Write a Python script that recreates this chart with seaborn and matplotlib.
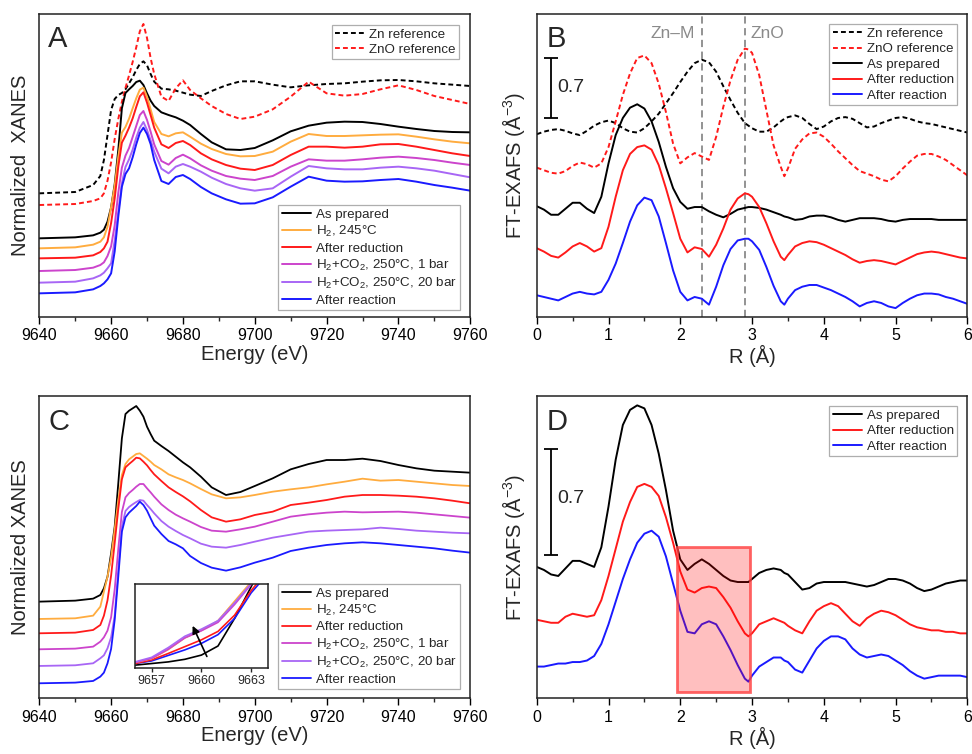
import matplotlib
matplotlib.use('Agg')
import matplotlib.pyplot as plt
import numpy as np
import seaborn as sns
from matplotlib.patches import Rectangle
from matplotlib.ticker import MultipleLocator

# ---- data (arbitrary offset units) ----
energy = [9640, 9650, 9655, 9657, 9658, 9659, 9660, 9661, 9662, 9663,
          9664, 9665, 9666, 9667, 9668, 9669, 9670, 9671, 9672, 9674,
          9676, 9678, 9680, 9682, 9685, 9688, 9692, 9696, 9700, 9705,
          9710, 9715, 9720, 9725, 9730, 9735, 9740, 9745, 9750, 9755, 9760]

# panel A
a_zn_ref = [3.70, 3.74, 3.95, 4.22, 4.70, 5.45, 6.20, 6.53, 6.65, 6.71,
            6.82, 7.00, 7.18, 7.40, 7.58, 7.66, 7.54, 7.28, 7.05, 6.84,
            6.82, 6.78, 6.72, 6.66, 6.62, 6.77, 6.94, 7.06, 7.06, 6.96,
            6.88, 6.94, 6.98, 7.00, 7.05, 7.09, 7.10, 7.06, 7.00, 6.96, 6.92]
a_zno_ref = [3.35, 3.38, 3.47, 3.55, 3.70, 4.08, 4.63, 5.33, 5.93, 6.44,
             6.86, 7.24, 7.64, 8.08, 8.56, 8.78, 8.36, 7.76, 7.28, 6.60,
             6.47, 6.85, 7.09, 6.80, 6.55, 6.32, 6.08, 5.93, 6.00, 6.22,
             6.60, 7.05, 6.70, 6.63, 6.68, 6.82, 6.94, 6.80, 6.62, 6.50, 6.38]
a_prep = [2.35, 2.38, 2.44, 2.52, 2.61, 2.85, 3.28, 3.97, 5.00, 6.25,
          6.71, 6.82, 6.92, 7.04, 7.08, 6.95, 6.70, 6.48, 6.32, 6.13,
          6.05, 5.98, 5.88, 5.75, 5.48, 5.23, 5.02, 5.00, 5.06, 5.29,
          5.56, 5.73, 5.82, 5.85, 5.84, 5.78, 5.70, 5.63, 5.57, 5.54, 5.53]
a_h2 = [2.05, 2.08, 2.16, 2.25, 2.38, 2.70, 3.28, 3.92, 4.80, 5.52,
        5.69, 5.94, 6.25, 6.55, 6.81, 6.87, 6.60, 6.22, 5.84, 5.48,
        5.41, 5.50, 5.53, 5.40, 5.19, 5.03, 4.88, 4.81, 4.82, 4.95,
        5.25, 5.48, 5.42, 5.42, 5.44, 5.46, 5.47, 5.40, 5.32, 5.25, 5.20]
a_red = [1.75, 1.77, 1.84, 1.94, 2.05, 2.25, 2.81, 3.55, 4.50, 5.22,
         5.43, 5.67, 5.95, 6.29, 6.61, 6.73, 6.42, 6.05, 5.67, 5.17,
         5.06, 5.21, 5.27, 5.15, 4.90, 4.72, 4.55, 4.44, 4.40, 4.55,
         4.85, 5.10, 5.10, 5.07, 5.10, 5.17, 5.18, 5.10, 5.00, 4.90, 4.82]
a_co2_1 = [1.37, 1.40, 1.47, 1.55, 1.63, 1.82, 2.11, 2.74, 3.72, 4.47,
           4.83, 5.06, 5.39, 5.72, 6.05, 6.17, 5.90, 5.55, 5.17, 4.67,
           4.56, 4.76, 4.86, 4.75, 4.54, 4.38, 4.22, 4.14, 4.10, 4.22,
           4.50, 4.72, 4.68, 4.68, 4.72, 4.77, 4.80, 4.76, 4.70, 4.62, 4.55]
a_co2_20 = [1.02, 1.05, 1.15, 1.24, 1.32, 1.45, 1.60, 2.28, 3.15, 4.00,
            4.49, 4.72, 5.01, 5.37, 5.67, 5.84, 5.60, 5.29, 4.95, 4.44,
            4.30, 4.50, 4.58, 4.50, 4.35, 4.17, 3.98, 3.85, 3.78, 3.85,
            4.20, 4.52, 4.45, 4.42, 4.42, 4.47, 4.50, 4.45, 4.38, 4.28, 4.18]
a_reac = [0.70, 0.73, 0.82, 0.92, 1.00, 1.12, 1.30, 1.96, 3.00, 3.90,
          4.28, 4.45, 4.78, 5.17, 5.51, 5.67, 5.48, 5.18, 4.70, 4.07,
          3.98, 4.19, 4.25, 4.13, 3.89, 3.70, 3.52, 3.39, 3.40, 3.58,
          3.90, 4.20, 4.08, 4.05, 4.06, 4.10, 4.13, 4.05, 3.95, 3.87, 3.78]

# panel C
c_prep = [2.90, 2.93, 2.99, 3.10, 3.30, 3.65, 4.35, 5.15, 6.45, 7.80,
          8.53, 8.63, 8.70, 8.77, 8.63, 8.45, 8.15, 7.93, 7.73, 7.57,
          7.42, 7.25, 7.08, 6.93, 6.65, 6.33, 6.10, 6.19, 6.37, 6.60,
          6.87, 7.03, 7.15, 7.15, 7.19, 7.12, 7.00, 6.90, 6.83, 6.80, 6.77]
c_h2 = [2.38, 2.40, 2.48, 2.75, 3.20, 3.65, 4.23, 5.07, 5.95, 6.70,
        7.03, 7.17, 7.25, 7.33, 7.35, 7.27, 7.19, 7.10, 7.00, 6.87,
        6.72, 6.63, 6.55, 6.45, 6.28, 6.12, 6.00, 6.03, 6.10, 6.20,
        6.27, 6.33, 6.42, 6.50, 6.59, 6.53, 6.55, 6.50, 6.45, 6.40, 6.37]
c_red = [1.95, 1.97, 2.05, 2.20, 2.48, 2.94, 3.68, 4.66, 5.68, 6.57,
         6.93, 7.03, 7.12, 7.22, 7.20, 7.10, 6.99, 6.85, 6.72, 6.52,
         6.33, 6.19, 6.06, 5.91, 5.65, 5.43, 5.30, 5.37, 5.50, 5.60,
         5.80, 5.87, 5.95, 6.05, 6.10, 6.10, 6.08, 6.05, 6.00, 5.93, 5.85]
c_co2_1 = [1.47, 1.49, 1.55, 1.70, 1.83, 2.03, 2.43, 3.27, 4.48, 5.59,
           6.03, 6.16, 6.25, 6.35, 6.43, 6.43, 6.30, 6.18, 6.05, 5.82,
           5.65, 5.51, 5.40, 5.30, 5.14, 5.03, 5.00, 5.07, 5.15, 5.30,
           5.45, 5.52, 5.57, 5.60, 5.58, 5.59, 5.60, 5.57, 5.52, 5.47, 5.42]
c_co2_20 = [0.97, 0.99, 1.05, 1.20, 1.29, 1.50, 1.83, 2.48, 3.88, 5.15,
            5.62, 5.74, 5.82, 5.89, 5.95, 5.93, 5.80, 5.68, 5.55, 5.32,
            5.15, 5.02, 4.90, 4.80, 4.64, 4.55, 4.52, 4.60, 4.70, 4.82,
            4.91, 5.00, 5.03, 5.05, 5.07, 5.12, 5.08, 5.03, 5.00, 4.97, 4.95]
c_reac = [0.45, 0.47, 0.52, 0.65, 0.77, 1.05, 1.48, 2.35, 3.65, 5.00,
          5.43, 5.57, 5.67, 5.77, 5.90, 5.80, 5.63, 5.40, 5.18, 4.93,
          4.72, 4.62, 4.50, 4.27, 4.06, 3.92, 3.83, 3.93, 4.07, 4.22,
          4.42, 4.52, 4.60, 4.65, 4.68, 4.65, 4.60, 4.55, 4.50, 4.43, 4.37]

# inset of C (pre-edge region)
inset_energy = [9656, 9657, 9658, 9659, 9660, 9661, 9662, 9663, 9664]
inset_prep = [0.08, 0.13, 0.18, 0.26, 0.39, 0.67, 1.52, 2.50, 3.50]
inset_h2 = [0.16, 0.28, 0.56, 0.92, 1.15, 1.45, 2.05, 2.65, 3.10]
inset_red = [0.13, 0.24, 0.44, 0.65, 0.86, 1.12, 1.62, 2.38, 3.00]
inset_co2_1 = [0.16, 0.29, 0.57, 0.92, 1.14, 1.40, 1.95, 2.57, 3.10]
inset_co2_20 = [0.18, 0.32, 0.62, 0.97, 1.19, 1.45, 2.00, 2.60, 3.10]
inset_reac = [0.13, 0.21, 0.38, 0.55, 0.75, 1.02, 1.52, 2.31, 2.90]

# panels B and D (R in Angstrom)
r = [0.0, 0.1, 0.2, 0.3, 0.4, 0.5, 0.6, 0.7, 0.8, 0.9,
     1.0, 1.1, 1.2, 1.3, 1.4, 1.5, 1.6, 1.7, 1.8, 1.9,
     2.0, 2.1, 2.2, 2.3, 2.4, 2.5, 2.6, 2.7, 2.8, 2.9,
     2.95, 3.0, 3.1, 3.2, 3.3, 3.4, 3.45, 3.5, 3.6, 3.7, 3.8, 3.9,
     4.0, 4.1, 4.2, 4.3, 4.4, 4.5, 4.6, 4.7, 4.8, 4.9,
     5.0, 5.1, 5.2, 5.3, 5.4, 5.5, 5.6, 5.7, 5.8, 5.9, 6.0]

b_zn_ref = [2.13, 2.16, 2.18, 2.19, 2.17, 2.14, 2.12, 2.17, 2.23, 2.27,
            2.29, 2.26, 2.20, 2.16, 2.15, 2.20, 2.28, 2.37, 2.49, 2.61,
            2.74, 2.86, 2.96, 3.00, 2.97, 2.86, 2.69, 2.53, 2.38, 2.26,
            2.23, 2.20, 2.16, 2.16, 2.21, 2.28, 2.31, 2.33, 2.35, 2.32, 2.25, 2.19,
            2.22, 2.28, 2.32, 2.33, 2.31, 2.26, 2.21, 2.22, 2.26, 2.29,
            2.32, 2.33, 2.31, 2.28, 2.26, 2.25, 2.23, 2.21, 2.19, 2.17, 2.15]
b_zno_ref = [1.74, 1.71, 1.68, 1.67, 1.70, 1.76, 1.80, 1.78, 1.74, 1.79,
             1.98, 2.28, 2.59, 2.84, 3.02, 3.05, 2.96, 2.72, 2.39, 2.02,
             1.79, 1.86, 1.91, 1.87, 1.83, 2.10, 2.45, 2.76, 3.00, 3.13,
             3.12, 3.08, 2.82, 2.41, 2.00, 1.75, 1.64, 1.73, 1.96, 2.07, 2.14, 2.15,
             2.10, 2.02, 1.93, 1.85, 1.77, 1.70, 1.67, 1.64, 1.60, 1.58,
             1.64, 1.73, 1.81, 1.88, 1.90, 1.90, 1.87, 1.83, 1.77, 1.71, 1.65]
b_prep = [1.29, 1.25, 1.19, 1.19, 1.26, 1.33, 1.33, 1.26, 1.21, 1.40,
          1.79, 2.12, 2.32, 2.44, 2.48, 2.43, 2.28, 2.04, 1.75, 1.50,
          1.34, 1.26, 1.28, 1.28, 1.23, 1.19, 1.16, 1.20, 1.25, 1.27,
          1.28, 1.28, 1.27, 1.25, 1.22, 1.19, 1.17, 1.16, 1.13, 1.14, 1.17, 1.18,
          1.18, 1.16, 1.13, 1.11, 1.13, 1.15, 1.15, 1.15, 1.14, 1.12,
          1.11, 1.13, 1.14, 1.14, 1.14, 1.14, 1.13, 1.13, 1.13, 1.13, 1.13]
b_red = [0.80, 0.76, 0.71, 0.69, 0.75, 0.82, 0.86, 0.82, 0.76, 0.80,
         1.05, 1.40, 1.71, 1.90, 1.98, 2.00, 1.95, 1.77, 1.50, 1.21,
         0.91, 0.75, 0.81, 0.79, 0.70, 0.84, 1.03, 1.25, 1.38, 1.44,
         1.43, 1.40, 1.28, 1.09, 0.88, 0.70, 0.66, 0.72, 0.82, 0.86, 0.88, 0.87,
         0.84, 0.80, 0.76, 0.72, 0.67, 0.63, 0.65, 0.66, 0.65, 0.63,
         0.61, 0.65, 0.69, 0.73, 0.75, 0.76, 0.75, 0.73, 0.71, 0.69, 0.68]
b_reac = [0.25, 0.23, 0.21, 0.19, 0.23, 0.27, 0.29, 0.27, 0.26, 0.29,
          0.43, 0.62, 0.86, 1.11, 1.30, 1.39, 1.36, 1.17, 0.86, 0.54,
          0.29, 0.19, 0.23, 0.21, 0.14, 0.35, 0.60, 0.79, 0.89, 0.91,
          0.91, 0.88, 0.78, 0.58, 0.36, 0.18, 0.14, 0.21, 0.31, 0.35, 0.37, 0.37,
          0.34, 0.31, 0.27, 0.23, 0.18, 0.12, 0.16, 0.18, 0.16, 0.12,
          0.10, 0.16, 0.21, 0.25, 0.27, 0.27, 0.26, 0.23, 0.21, 0.18, 0.15]

d_prep = [0.87, 0.85, 0.82, 0.81, 0.86, 0.91, 0.91, 0.89, 0.87, 1.00,
          1.27, 1.58, 1.81, 1.91, 1.94, 1.92, 1.81, 1.62, 1.38, 1.11,
          0.92, 0.85, 0.89, 0.92, 0.89, 0.85, 0.81, 0.78, 0.77, 0.77,
          0.77, 0.79, 0.83, 0.85, 0.86, 0.85, 0.83, 0.82, 0.77, 0.72, 0.73, 0.76,
          0.77, 0.77, 0.77, 0.77, 0.76, 0.75, 0.74, 0.75, 0.77, 0.79,
          0.79, 0.78, 0.76, 0.73, 0.71, 0.72, 0.74, 0.76, 0.77, 0.78, 0.78]
d_red = [0.52, 0.51, 0.50, 0.50, 0.54, 0.56, 0.55, 0.54, 0.55, 0.65,
         0.81, 0.99, 1.17, 1.30, 1.40, 1.42, 1.40, 1.34, 1.20, 1.03,
         0.84, 0.72, 0.70, 0.73, 0.74, 0.73, 0.67, 0.60, 0.51, 0.43,
         0.41, 0.43, 0.49, 0.51, 0.53, 0.51, 0.50, 0.48, 0.45, 0.43, 0.51, 0.58,
         0.61, 0.63, 0.61, 0.56, 0.51, 0.48, 0.53, 0.56, 0.58, 0.57,
         0.55, 0.52, 0.49, 0.47, 0.46, 0.45, 0.45, 0.44, 0.44, 0.43, 0.43]
d_reac = [0.21, 0.21, 0.22, 0.23, 0.23, 0.24, 0.24, 0.25, 0.28, 0.36,
          0.49, 0.64, 0.79, 0.92, 1.03, 1.09, 1.11, 1.07, 0.94, 0.76,
          0.58, 0.44, 0.43, 0.49, 0.51, 0.49, 0.41, 0.32, 0.22, 0.13,
          0.11, 0.15, 0.21, 0.24, 0.27, 0.27, 0.25, 0.24, 0.19, 0.17, 0.25, 0.33,
          0.38, 0.41, 0.41, 0.39, 0.33, 0.29, 0.27, 0.28, 0.29, 0.28,
          0.25, 0.22, 0.18, 0.15, 0.13, 0.14, 0.15, 0.15, 0.15, 0.15, 0.14]

labels_xanes = ['As prepared', 'H$_2$, 245°C', 'After reduction',
                'H$_2$+CO$_2$, 250°C, 1 bar', 'H$_2$+CO$_2$, 250°C, 20 bar',
                'After reaction']
labels_exafs = ['As prepared', 'After reduction', 'After reaction']
colors_xanes = ['black', '#ffac3f', '#ff1a1a', '#cc44cc', '#a866f5', '#1a1aff']
colors_exafs = ['black', '#ff1a1a', '#1a1aff']
DASH = (0, (2.5, 1.6))

sns.set_style('ticks')
plt.rcParams['font.family'] = ['Liberation Sans', 'DejaVu Sans']
plt.rcParams['mathtext.default'] = 'regular'


def add_curve(ax, x, y, color, label=None, ls='-', lw=1.4):
    sns.lineplot(x=x, y=y, ax=ax, color=color, linewidth=lw, linestyle=ls,
                 label=label, estimator=None, sort=False, legend=False)


def style_axes(ax, xlim, major, minor, xlabel, ylabel, ylim):
    ax.set_xlim(*xlim)
    ax.set_ylim(*ylim)
    ax.xaxis.set_major_locator(MultipleLocator(major))
    ax.xaxis.set_minor_locator(MultipleLocator(minor))
    ax.set_yticks([])
    ax.tick_params(axis='x', which='major', direction='out', length=5, width=1,
                   labelsize=11.5, colors='black')
    ax.tick_params(axis='x', which='minor', direction='out', length=3, width=1)
    for sp in ax.spines.values():
        sp.set_linewidth(1.1)
        sp.set_color('#222222')
    ax.set_xlabel(xlabel, fontsize=14.5, labelpad=1)
    ax.set_ylabel(ylabel, fontsize=14.5, labelpad=7)


def make_legend(ax, handles, anchor, loc):
    leg = ax.legend(handles=handles, loc=loc, bbox_to_anchor=anchor,
                    borderaxespad=0, frameon=True, fancybox=False,
                    edgecolor='#9a9a9a', fontsize=9.6, handlelength=2.2,
                    handletextpad=0.35, labelspacing=0.24, borderpad=0.25)
    leg.get_frame().set_linewidth(0.9)
    return leg


fig = plt.figure(figsize=(9.72, 7.54), dpi=100)
ax_a = fig.add_axes([0.0404, 0.5800, 0.4434, 0.4010])
ax_b = fig.add_axes([0.5522, 0.5800, 0.4430, 0.4010])
ax_c = fig.add_axes([0.0404, 0.0739, 0.4434, 0.4013])
ax_d = fig.add_axes([0.5522, 0.0739, 0.4430, 0.4013])

# ---- A: XANES with references ----
add_curve(ax_a, energy, a_zn_ref, 'black', 'Zn reference', DASH)
add_curve(ax_a, energy, a_zno_ref, '#ff1a1a', 'ZnO reference', DASH)
for vals, col, lab in zip([a_prep, a_h2, a_red, a_co2_1, a_co2_20, a_reac],
                          colors_xanes, labels_xanes):
    add_curve(ax_a, energy, vals, col, lab)
style_axes(ax_a, (9640, 9760), 20, 10, 'Energy (eV)', 'Normalized  XANES', (0, 9.07))
h, _ = ax_a.get_legend_handles_labels()
leg_ref = make_legend(ax_a, h[:2], (0.974, 0.965), 'upper right')
ax_a.add_artist(leg_ref)
make_legend(ax_a, h[2:], (0.976, 0.022), 'lower right')
ax_a.text(0.02, 0.965, 'A', transform=ax_a.transAxes, fontsize=21, va='top')

# ---- B: FT-EXAFS with references ----
add_curve(ax_b, r, b_zn_ref, 'black', 'Zn reference', DASH)
add_curve(ax_b, r, b_zno_ref, '#ff1a1a', 'ZnO reference', DASH)
for vals, col, lab in zip([b_prep, b_red, b_reac], colors_exafs, labels_exafs):
    add_curve(ax_b, r, vals, col, lab)
style_axes(ax_b, (0, 6), 1, 0.5, 'R (Å)', 'FT-EXAFS (Å$^{-3}$)', (0, 3.53))
for xv in (2.30, 2.90):
    ax_b.axvline(xv, color='#8a8a8a', lw=1.3, ls=(0, (4, 2.5)), zorder=1)
ax_b.text(2.21, 3.31, 'Zn–M', color='#8a8a8a', fontsize=12.5, ha='right', va='center')
ax_b.text(2.98, 3.31, 'ZnO', color='#8a8a8a', fontsize=12.5, ha='left', va='center')
ax_b.errorbar(0.2, 2.67, yerr=0.35, fmt='none', ecolor='black', elinewidth=1.3,
              capsize=5, capthick=1.3)
ax_b.text(0.28, 2.68, '0.7', fontsize=14, va='center')
h, _ = ax_b.get_legend_handles_labels()
make_legend(ax_b, h, (0.976, 0.968), 'upper right')
ax_b.text(0.023, 0.965, 'B', transform=ax_b.transAxes, fontsize=21, va='top')

# ---- C: in situ XANES ----
for vals, col, lab in zip([c_prep, c_h2, c_red, c_co2_1, c_co2_20, c_reac],
                          colors_xanes, labels_xanes):
    add_curve(ax_c, energy, vals, col, lab, lw=1.3)
style_axes(ax_c, (9640, 9760), 20, 10, 'Energy (eV)', 'Normalized XANES', (0, 9.08))
h, _ = ax_c.get_legend_handles_labels()
make_legend(ax_c, h, (0.976, 0.031), 'lower right')
ax_c.text(0.021, 0.96, 'C', transform=ax_c.transAxes, fontsize=21, va='top')

ax_in = fig.add_axes([0.1389, 0.1144, 0.1366, 0.1110])
for vals, col in zip([inset_prep, inset_reac, inset_red, inset_h2, inset_co2_1, inset_co2_20],
                     ['black', '#1a1aff', '#ff1a1a', '#ffac3f', '#cc44cc', '#a866f5']):
    add_curve(ax_in, inset_energy, vals, col, lw=1.2)
ax_in.set_xlim(9656, 9664)
ax_in.set_ylim(0, 2.58)
ax_in.set_xticks([9657, 9660, 9663])
ax_in.set_yticks([])
ax_in.set_xlabel('')
ax_in.set_ylabel('')
ax_in.tick_params(axis='x', direction='out', length=3, width=1, labelsize=9, pad=2)
for sp in ax_in.spines.values():
    sp.set_linewidth(1.1)
    sp.set_color('#222222')
ax_in.annotate('', xy=(9659.4, 1.37), xytext=(9660.4, 0.27),
               arrowprops=dict(arrowstyle='-|>', color='black', lw=1.2,
                               mutation_scale=11))

# ---- D: in situ FT-EXAFS ----
for vals, col, lab in zip([d_prep, d_red, d_reac], colors_exafs, labels_exafs):
    add_curve(ax_d, r, vals, col, lab)
style_axes(ax_d, (0, 6), 1, 0.5, 'R (Å)', 'FT-EXAFS (Å$^{-3}$)', (0, 2.004))
ax_d.add_patch(Rectangle((1.96, 0.044), 1.01, 0.956, facecolor=(1, 0, 0, 0.25),
                         edgecolor=(1, 0.25, 0.25, 0.8), lw=2, zorder=5))
ax_d.errorbar(0.2, 1.30, yerr=0.35, fmt='none', ecolor='black', elinewidth=1.3,
              capsize=5, capthick=1.3)
ax_d.text(0.28, 1.32, '0.7', fontsize=14, va='center')
h, _ = ax_d.get_legend_handles_labels()
make_legend(ax_d, h, (0.976, 0.966), 'upper right')
ax_d.text(0.023, 0.96, 'D', transform=ax_d.transAxes, fontsize=21, va='top')

fig.savefig('out.png', dpi=100)
